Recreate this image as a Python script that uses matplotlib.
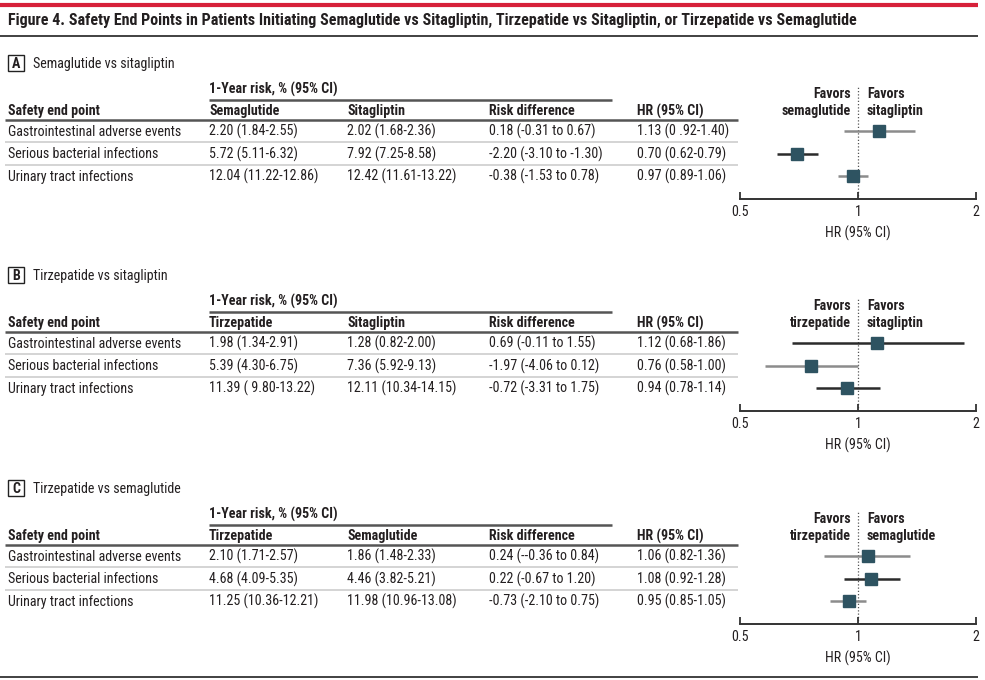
import numpy as np
import matplotlib
matplotlib.use("Agg")
import matplotlib.pyplot as plt
from matplotlib import font_manager
from matplotlib.patches import Rectangle
from matplotlib.ticker import FixedLocator, FixedFormatter, NullLocator

# pick a narrow family if one is installed
available = {f.name for f in font_manager.fontManager.ttflist}
narrow = sorted(n for n in available if "Narrow" in n or "Condensed" in n)
family = None
for cand in ["Liberation Sans Narrow", "Roboto Condensed", "Open Sans Condensed",
             "DejaVu Sans Condensed", "Noto Sans Condensed"] + narrow + ["Lato"]:
    if cand in available:
        family = cand
        break
plt.rcParams['font.family'] = [family, 'DejaVu Sans']

# --- DATA ---
title = "Figure 4. Safety End Points in Patients Initiating Semaglutide vs Sitagliptin, Tirzepatide vs Sitagliptin, or Tirzepatide vs Semaglutide"
panel_letters = ["A", "B", "C"]
panel_titles = ["Semaglutide vs sitagliptin", "Tirzepatide vs sitagliptin", "Tirzepatide vs semaglutide"]
group_names = [("Semaglutide", "Sitagliptin"), ("Tirzepatide", "Sitagliptin"), ("Tirzepatide", "Semaglutide")]
favors = [("semaglutide", "sitagliptin"), ("tirzepatide", "sitagliptin"), ("tirzepatide", "semaglutide")]
end_points = ["Gastrointestinal adverse events", "Serious bacterial infections", "Urinary tract infections"]

risk_group1 = [
    ["2.20 (1.84-2.55)", "5.72 (5.11-6.32)", "12.04 (11.22-12.86)"],
    ["1.98 (1.34-2.91)", "5.39 (4.30-6.75)", "11.39 ( 9.80-13.22)"],
    ["2.10 (1.71-2.57)", "4.68 (4.09-5.35)", "11.25 (10.36-12.21)"],
]
risk_group2 = [
    ["2.02 (1.68-2.36)", "7.92 (7.25-8.58)", "12.42 (11.61-13.22)"],
    ["1.28 (0.82-2.00)", "7.36 (5.92-9.13)", "12.11 (10.34-14.15)"],
    ["1.86 (1.48-2.33)", "4.46 (3.82-5.21)", "11.98 (10.96-13.08)"],
]
risk_diff = [
    ["0.18 (-0.31 to 0.67)", "-2.20 (-3.10 to -1.30)", "-0.38 (-1.53 to 0.78)"],
    ["0.69 (-0.11 to 1.55)", "-1.97 (-4.06 to 0.12)", "-0.72 (-3.31 to 1.75)"],
    ["0.24 (--0.36 to 0.84)", "0.22 (-0.67 to 1.20)", "-0.73 (-2.10 to 0.75)"],
]
hr_text = [
    ["1.13 (0 .92-1.40)", "0.70 (0.62-0.79)", "0.97 (0.89-1.06)"],
    ["1.12 (0.68-1.86)", "0.76 (0.58-1.00)", "0.94 (0.78-1.14)"],
    ["1.06 (0.82-1.36)", "1.08 (0.92-1.28)", "0.95 (0.85-1.05)"],
]
hr = [[1.13, 0.70, 0.97], [1.12, 0.76, 0.94], [1.06, 1.08, 0.95]]
hr_lo = [[0.92, 0.62, 0.89], [0.68, 0.58, 0.78], [0.82, 0.92, 0.85]]
hr_hi = [[1.40, 0.79, 1.06], [1.86, 1.00, 1.14], [1.36, 1.28, 1.05]]
ci_colors = [["#8c8c8c", "#2b2b2b", "#8c8c8c"],
             ["#2b2b2b", "#8c8c8c", "#2b2b2b"],
             ["#8c8c8c", "#2b2b2b", "#8c8c8c"]]
hr_ticks = [0.5, 1, 2]
hr_tick_labels = ["0.5", "1", "2"]

# --- LAYOUT (pixels) ---
W, H = 985, 680
TXT = "#231f20"
MARK = "#2e5361"

fig = plt.figure(figsize=(W / 100, H / 100), dpi=100)
base = fig.add_axes([0, 0, 1, 1])
base.set_xlim(0, W)
base.set_ylim(H, 0)
base.axis("off")
renderer = fig.canvas.get_renderer()


def fit_size(s, target_px, weight="normal"):
    # font size that makes string s about target_px wide
    t = fig.text(0, 0, s, fontsize=10, fontweight=weight)
    w = t.get_window_extent(renderer).width
    t.remove()
    return 10 * target_px / w


FS = min(fit_size("Gastrointestinal adverse events", 172), 10.5)
FS_TITLE = min(fit_size(title, 848, "bold"), 12)


def txt(x, y, s, **kw):
    # y is the visual middle of capitals; place by baseline
    kw.setdefault("fontsize", FS)
    kw.setdefault("color", TXT)
    size = kw["fontsize"]
    base.text(x, y + size * 0.48, s, va="baseline", **kw)


def hline(y, x0, x1, color, lw):
    base.plot([x0, x1], [y, y], color=color, lw=lw, solid_capstyle="butt")


# header
hline(5, 0, 978, "#d7213a", 3)
txt(8, 19, title, fontsize=FS_TITLE, fontweight="bold")
hline(35.5, 0, 978, "#333333", 1.3)
hline(677, 0, 978, "#333333", 1.3)

col_x = [8, 209, 347, 489, 637]
panel_top = [63, 275, 488]
row_gap = 22.5

for p in range(3):
    y0 = panel_top[p]
    # panel label box
    base.add_patch(Rectangle((8, y0 - 8), 16, 16, fill=False, ec="#222222", lw=1))
    txt(16, y0, panel_letters[p], ha="center", fontweight="bold")
    txt(33, y0, panel_titles[p])

    y_risk = y0 + 26
    txt(209, y_risk, "1-Year risk, % (95% CI)", fontweight="bold")
    hline(y_risk + 10.5, 209, 612, "#555555", 1.8)
    y_head = y0 + 47.5
    headers = ["Safety end point", group_names[p][0], group_names[p][1], "Risk difference", "HR (95% CI)"]
    for x, h in zip(col_x, headers):
        txt(x, y_head, h, fontweight="bold")
    hline(y_head + 9, 5, 738, "#555555", 1.8)

    y_rows = [y0 + 68 + i * row_gap for i in range(3)]
    for i in range(3):
        y = y_rows[i]
        vals = [end_points[i], risk_group1[p][i], risk_group2[p][i], risk_diff[p][i], hr_text[p][i]]
        for x, v in zip(col_x, vals):
            txt(x, y, v)
        if i < 2:
            hline(y + 11, 5, 738, "#d4d4d4", 1.4)

    # forest plot
    ax_bottom = y_rows[0] + 68
    ax_top = y_rows[0] - 45
    ax = fig.add_axes([740 / W, 1 - ax_bottom / H, 236 / W, (ax_bottom - ax_top) / H])
    ax.set_xscale("log")
    ax.set_xlim(0.5, 2)
    ax.set_ylim(3.02, -2)
    ax.patch.set_alpha(0)
    for s in ["top", "left", "right"]:
        ax.spines[s].set_visible(False)
    ax.spines["bottom"].set_color("#333333")
    ax.spines["bottom"].set_linewidth(1.4)
    ax.axvline(1, color="#555555", lw=0.9, ls=(0, (1, 1.6)), zorder=1)
    rows = np.arange(3)
    for i in rows:
        ax.plot([hr_lo[p][i], hr_hi[p][i]], [i, i], color=ci_colors[p][i], lw=1.8,
                solid_capstyle="butt", zorder=2)
    ax.plot(hr[p], rows, ls="none", marker="s", ms=9, color=MARK, zorder=3)
    ax.xaxis.set_major_locator(FixedLocator(hr_ticks))
    ax.xaxis.set_major_formatter(FixedFormatter(hr_tick_labels))
    ax.xaxis.set_minor_locator(NullLocator())
    ax.tick_params(axis="x", direction="in", length=5, width=1.3, color="#333333",
                   labelsize=FS, labelcolor=TXT, pad=4)
    ax.set_yticks([])
    ax.set_xlabel("HR (95% CI)", fontsize=FS, color=TXT, labelpad=5)

    # favors labels
    txt(851, y0 + 30, "Favors", ha="right", fontweight="bold")
    txt(851, y_head, favors[p][0], ha="right", fontweight="bold")
    txt(867, y0 + 30, "Favors", ha="left", fontweight="bold")
    txt(867, y_head, favors[p][1], ha="left", fontweight="bold")

fig.savefig("out.png", dpi=100)
